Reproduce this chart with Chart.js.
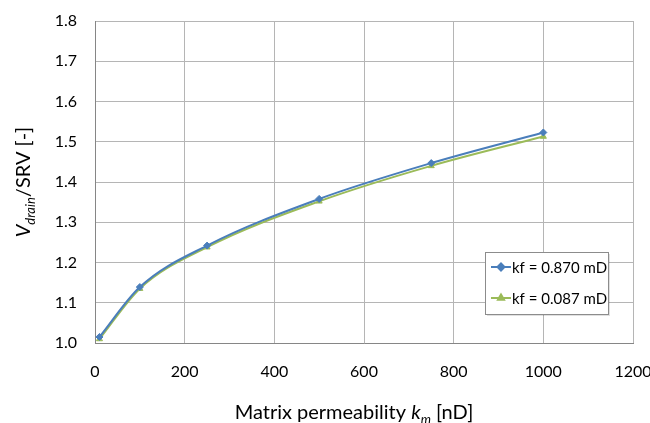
<!DOCTYPE html>
<html>
<head>
<meta charset="utf-8">
<script src="https://cdn.jsdelivr.net/npm/chart.js@4"></script>
<style>
  html, body { margin: 0; padding: 0; background: #fff; }
  #wrap { width: 650px; height: 423px; }
</style>
</head>
<body>
<div id="wrap"><canvas id="chart" width="650" height="423"></canvas></div>
<script>
// data
const permeability = [10, 100, 250, 500, 750, 1000];
const seriesHigh = [1.015, 1.139, 1.242, 1.358, 1.447, 1.523]; // kf = 0.870 mD
const seriesLow = [1.010, 1.135, 1.238, 1.352, 1.440, 1.513];  // kf = 0.087 mD
const seriesLabels = ['kf = 0.870 mD', 'kf = 0.087 mD'];
const xTicks = [0, 200, 400, 600, 800, 1000, 1200];
const yTicks = [1.0, 1.1, 1.2, 1.3, 1.4, 1.5, 1.6, 1.7, 1.8];

const FONT = 'Lato, "Open Sans", sans-serif';
const BLUE = '#4A7EBB';
const GREEN = '#9BBB59';

// axis titles with italic/subscript pieces and the boxed legend
const decorPlugin = {
  id: 'decor',
  afterDraw(chart) {
    const ctx = chart.ctx;
    const area = chart.chartArea;
    ctx.save();
    ctx.fillStyle = '#000';
    ctx.textBaseline = 'alphabetic';

    // y title
    const yParts = [
      { t: 'V', f: 'italic 20px ' + FONT, dy: 0 },
      { t: 'drain', f: 'italic 13px ' + FONT, dy: 5 },
      { t: '/SRV [-]', f: '20px ' + FONT, dy: 0 }
    ];
    let total = 0;
    yParts.forEach(p => { ctx.font = p.f; total += ctx.measureText(p.t).width; });
    ctx.translate(30, (area.top + area.bottom) / 2);
    ctx.rotate(-Math.PI / 2);
    let x = -total / 2;
    yParts.forEach(p => { ctx.font = p.f; ctx.fillText(p.t, x, p.dy); x += ctx.measureText(p.t).width; });
    ctx.setTransform(1, 0, 0, 1, 0, 0);

    // x title
    const xParts = [
      { t: 'Matrix permeability ', f: '20px ' + FONT, dy: 0 },
      { t: 'k', f: 'italic 20px ' + FONT, dy: 0 },
      { t: 'm', f: 'italic 13px ' + FONT, dy: 5 },
      { t: ' [nD]', f: '20px ' + FONT, dy: 0 }
    ];
    total = 0;
    xParts.forEach(p => { ctx.font = p.f; total += ctx.measureText(p.t).width; });
    x = 354 - total / 2;
    xParts.forEach(p => { ctx.font = p.f; ctx.fillText(p.t, x, 419 + p.dy); x += ctx.measureText(p.t).width; });

    // legend box
    const bx = 485, by = 252, bw = 123, bh = 62;
    ctx.fillStyle = 'rgba(0,0,0,0.12)';
    ctx.fillRect(bx + 2, by + 2, bw, bh);
    ctx.fillStyle = '#fff';
    ctx.fillRect(bx, by, bw, bh);
    ctx.strokeStyle = '#8C8C8C';
    ctx.lineWidth = 1;
    ctx.strokeRect(bx + 0.5, by + 0.5, bw, bh);

    const items = [
      { label: seriesLabels[0], color: BLUE, style: 'rectRot', r: 3.5, y: 267 },
      { label: seriesLabels[1], color: GREEN, style: 'triangle', r: 3.5, y: 298 }
    ];
    items.forEach(it => {
      ctx.strokeStyle = it.color;
      ctx.lineWidth = 2;
      ctx.beginPath();
      ctx.moveTo(491, it.y);
      ctx.lineTo(511, it.y);
      ctx.stroke();
      ctx.fillStyle = it.color;
      Chart.helpers.drawPoint(ctx, { pointStyle: it.style, radius: it.r, borderWidth: 1 }, 501, it.y);
      ctx.fillStyle = '#000';
      ctx.font = '15px ' + FONT;
      ctx.textBaseline = 'middle';
      ctx.fillText(it.label, 512, it.y + 1);
    });
    ctx.restore();
  }
};

new Chart(document.getElementById('chart'), {
  type: 'line',
  data: {
    datasets: [
      {
        label: seriesLabels[0],
        data: permeability.map((k, i) => ({ x: k, y: seriesHigh[i] })),
        borderColor: BLUE,
        backgroundColor: BLUE,
        borderWidth: 2,
        pointStyle: 'rectRot',
        pointRadius: 3.5,
        pointBorderWidth: 1,
        cubicInterpolationMode: 'monotone'
      },
      {
        label: seriesLabels[1],
        data: permeability.map((k, i) => ({ x: k, y: seriesLow[i] })),
        borderColor: GREEN,
        backgroundColor: GREEN,
        borderWidth: 2,
        pointStyle: 'triangle',
        pointRadius: 3.5,
        pointBorderWidth: 1,
        cubicInterpolationMode: 'monotone'
      }
    ]
  },
  options: {
    responsive: false,
    animation: false,
    layout: { padding: { top: 21, right: 17, bottom: 0, left: 0 } },
    plugins: { legend: { display: false }, tooltip: { enabled: false } },
    scales: {
      x: {
        type: 'linear',
        min: 0,
        max: 1200,
        afterBuildTicks: s => { s.ticks = xTicks.map(v => ({ value: v })); },
        afterFit: s => { s.height = 80; s.paddingLeft = 0; s.paddingRight = 0; },
        ticks: { color: '#000', font: { family: FONT, size: 16 }, padding: 19, maxRotation: 0, callback: v => String(v) },
        grid: { color: '#B5B5B5', drawTicks: false },
        border: { color: '#868686' }
      },
      y: {
        type: 'linear',
        min: 1.0,
        max: 1.8,
        afterBuildTicks: s => { s.ticks = yTicks.map(v => ({ value: v })); },
        afterFit: s => { s.width = 95; s.paddingTop = 0; s.paddingBottom = 0; },
        ticks: { color: '#000', font: { family: FONT, size: 16 }, padding: 18, callback: v => Number(v).toFixed(1) },
        grid: { color: '#B5B5B5', drawTicks: false },
        border: { color: '#868686' }
      }
    }
  },
  plugins: [decorPlugin]
});
</script>
</body>
</html>
